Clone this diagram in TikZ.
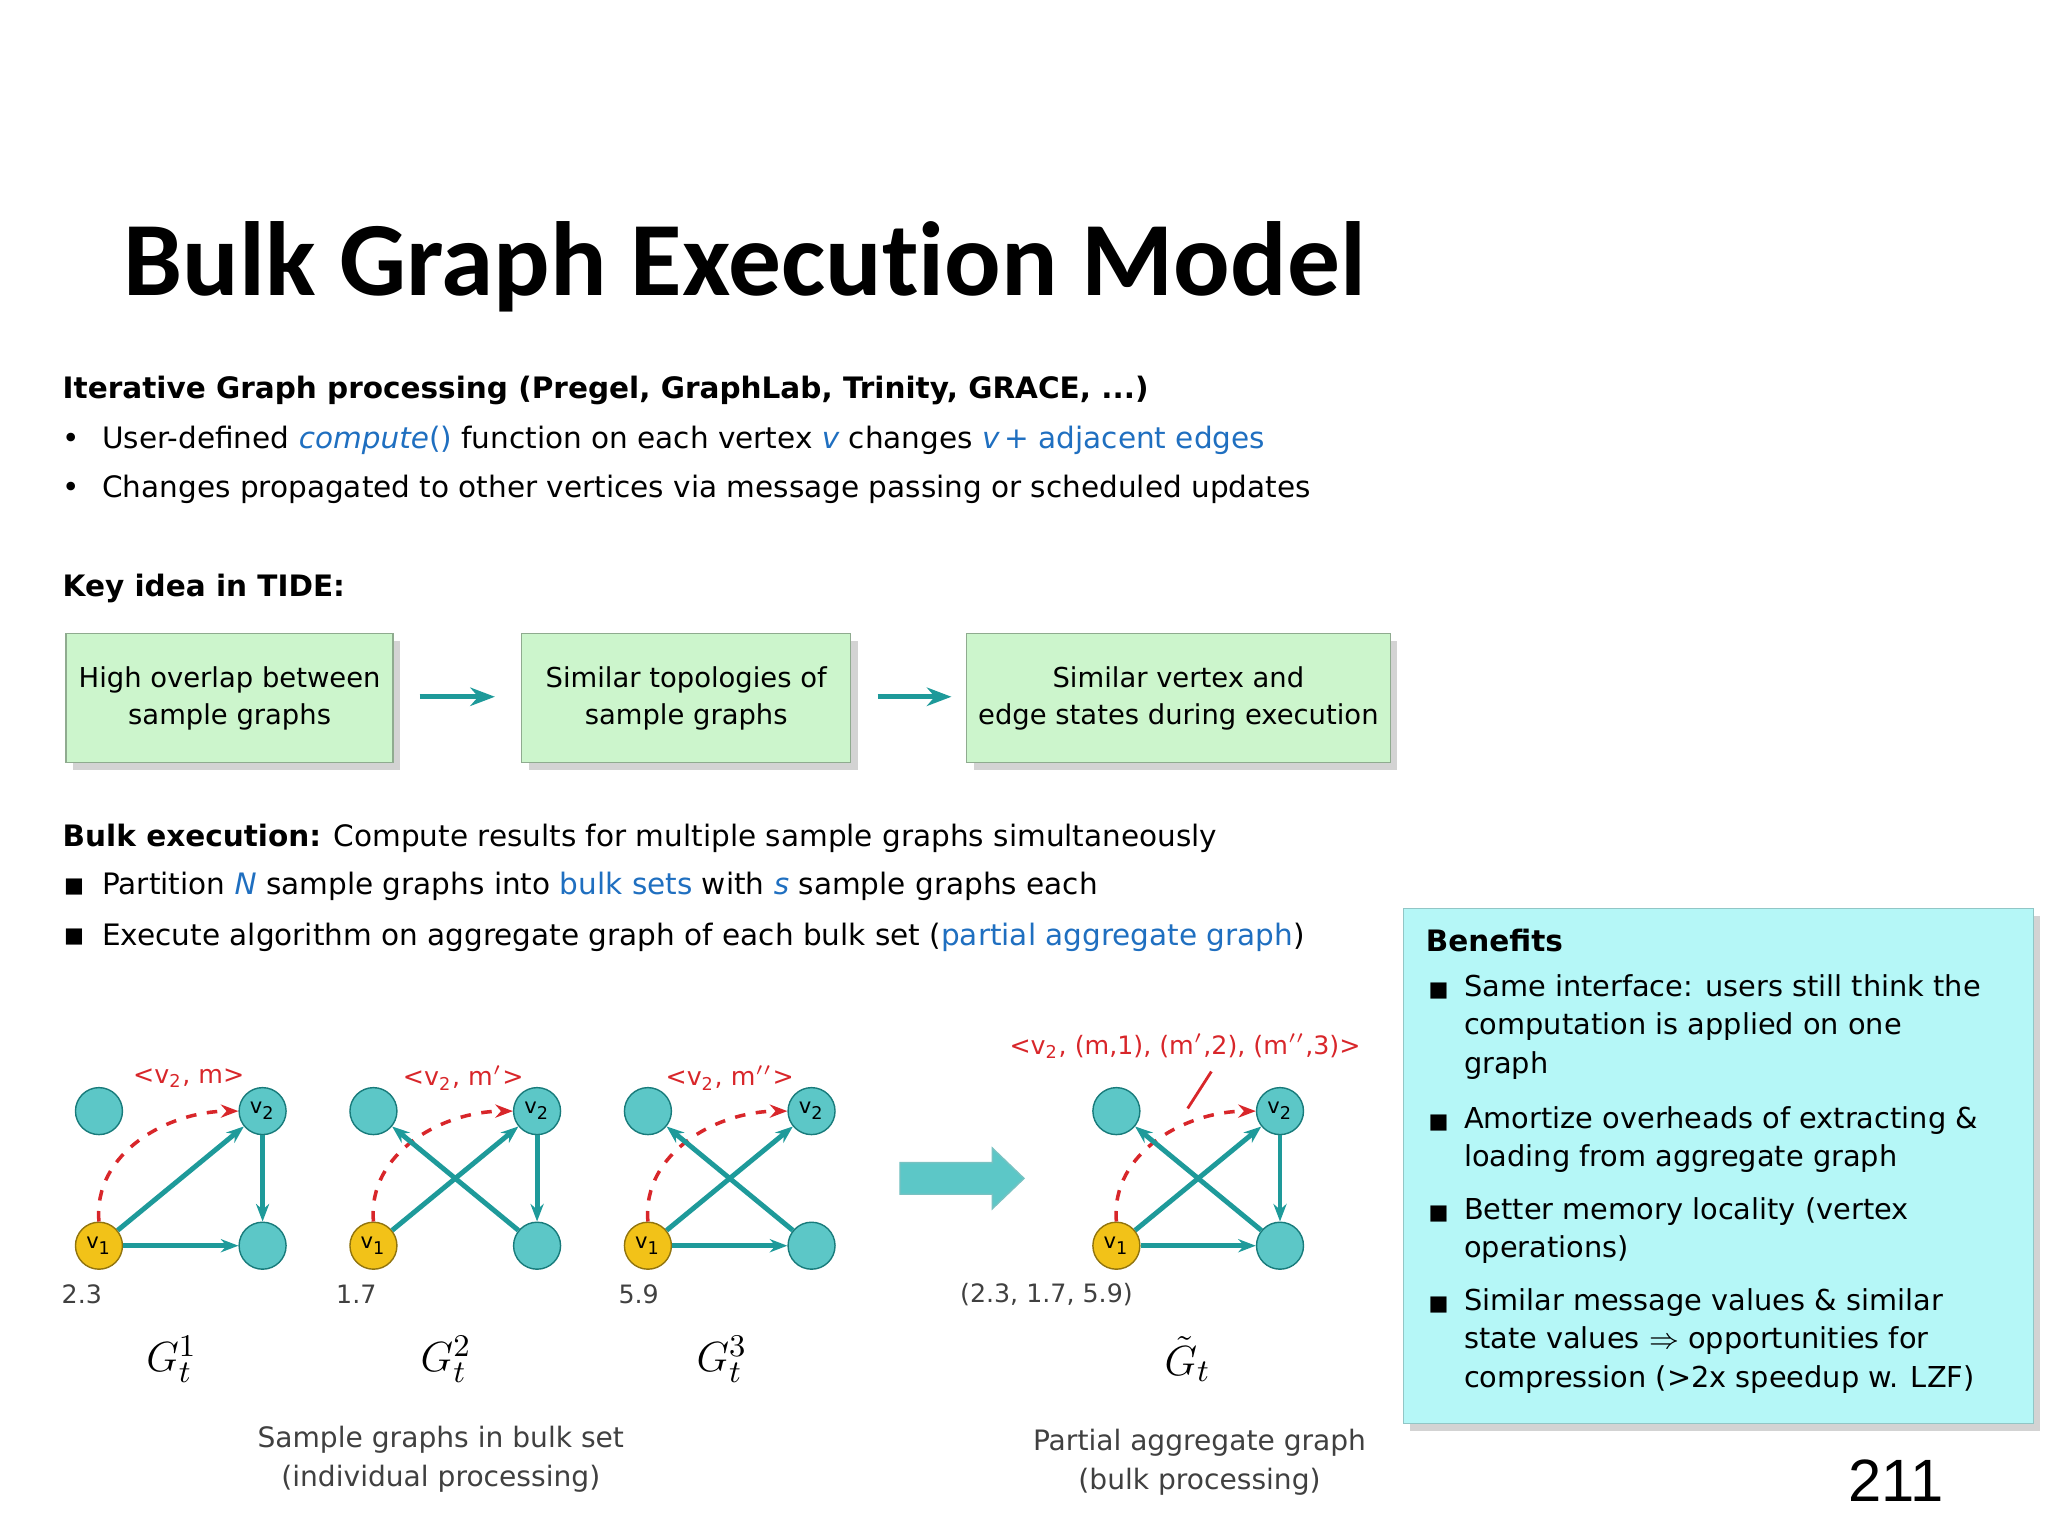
\documentclass[tikz,border=0pt]{standalone}
\usepackage{fontspec}
\setmainfont{DejaVu Sans}
\newfontfamily\titlefont[Ligatures=NoCommon]{Carlito}
\newfontfamily\numfont{Liberation Sans}
\usetikzlibrary{arrows.meta,shadows}
\definecolor{lnk}{HTML}{1F6FC0}
\definecolor{teal1}{HTML}{1E9A9A}
\definecolor{nodec}{HTML}{5CC7C7}
\definecolor{yel}{HTML}{F2C218}
\definecolor{redm}{HTML}{D8262A}
\definecolor{boxg}{HTML}{CCF5CC}
\definecolor{boxc}{HTML}{B5F7F7}
\tikzset{
 body/.style={font=\fontsize{8.4}{10}\selectfont,anchor=west,inner sep=0pt},
 keybox/.style={draw=boxg!70!black,fill=boxg,minimum height=1.29cm,align=center,font=\fontsize{7.8}{10.5}\selectfont,drop shadow={opacity=0.35,shadow xshift=2pt,shadow yshift=-2pt}},
 vtx/.style={circle,draw=teal1!80!black,fill=nodec,minimum size=0.47cm,inner sep=0pt,font=\fontsize{6}{6}\selectfont},
 vone/.style={vtx,fill=yel,draw=yel!60!black},
 edg/.style={teal1,line width=1.4pt,-{Stealth[length=5pt]}},
 msg/.style={redm,dashed,line width=1pt,-{Stealth[length=5pt]}},
 rlab/.style={redm,font=\fontsize{7.2}{9}\selectfont},
 glab/.style={font=\fontsize{7.2}{9}\selectfont,text=black!75},
 bl/.style={body,anchor=north west,align=left,font=\fontsize{8.2}{10.9}\selectfont},
}
\begin{document}
\begin{tikzpicture}[x=0.013196cm,y=-0.013196cm]
\useasboundingbox (0,0) rectangle (1552,1164);
\node[anchor=west,inner sep=0pt,font=\titlefont\bfseries\fontsize{30}{32}\selectfont] (title) at (93,202) {Bulk Graph Execution Model};
\node[body,font=\bfseries\fontsize{8.4}{10}\selectfont] (l1) at (47,296) {Iterative Graph processing (Pregel, GraphLab, Trinity, GRACE, ...)};
\node[body] (b1) at (47,334) {•};
\node[body] (l2) at (77,334) {User-defined \textcolor{lnk}{\itshape compute}\textcolor{lnk}{()} function on each vertex \textcolor{lnk}{\itshape v} changes \textcolor{lnk}{\itshape v}\textcolor{lnk}{\,+ adjacent edges}};
\node[body] (b2) at (47,371) {•};
\node[body] (l3) at (77,371) {Changes propagated to other vertices via message passing or scheduled updates};
\node[body,font=\bfseries\fontsize{8.4}{10}\selectfont] (l4) at (47,446) {Key idea in TIDE:};
\node[keybox,minimum width=3.27cm] (k1) at (174,529) {High overlap between\\sample graphs};
\node[keybox,minimum width=3.29cm] (k2) at (520,529) {Similar topologies of\\sample graphs};
\node[keybox,minimum width=4.01cm] (k3) at (893,529) {Similar vertex and\\edge states during execution};
\coordinate (a1s) at (318,528); \coordinate (a1e) at (375,528);
\coordinate (a2s) at (665,528); \coordinate (a2e) at (721,528);
\draw[teal1,line width=1.5pt,-{Stealth[length=7pt]}] (a1s) -- (a1e);
\draw[teal1,line width=1.5pt,-{Stealth[length=7pt]}] (a2s) -- (a2e);
\node[body] (l5) at (47,635) {\textbf{Bulk execution:} Compute results for multiple sample graphs simultaneously};
\node[body] (b3) at (48,672) {\fontsize{6}{6}\selectfont■};
\node[body] (l6) at (77,672) {Partition \textcolor{lnk}{\itshape N} sample graphs into \textcolor{lnk}{bulk sets} with \textcolor{lnk}{\itshape s} sample graphs each};
\node[body] (b4) at (48,710) {\fontsize{6}{6}\selectfont■};
\node[body] (l7) at (77,710) {Execute algorithm on aggregate graph of each bulk set (\textcolor{lnk}{partial aggregate graph})};
% benefits
\node[draw=boxc!80!black,fill=boxc,minimum width=6.3cm,minimum height=5.15cm,anchor=north west,drop shadow={opacity=0.35,shadow xshift=2pt,shadow yshift=-2pt}] (ben) at (1063,688) {};
\node[body,font=\bfseries\fontsize{8.4}{10}\selectfont] (bt) at (1080,713) {Benefits};
\foreach \y in {751,851,920,989} \node[body] at (1082,\y) {\fontsize{6}{6}\selectfont■};
\node[bl] (bb1) at (1109,738) {Same interface: users still think the\\computation is applied on one\\graph};
\node[bl] (bb2) at (1109,838) {Amortize overheads of extracting \&\\loading from aggregate graph};
\node[bl] (bb3) at (1109,907) {Better memory locality (vertex\\operations)};
\node[bl] (bb4) at (1109,976) {Similar message values \& similar\\state values $\Rightarrow$ opportunities for\\compression (>2x speedup w. LZF)};
\node[font=\numfont\fontsize{17}{20}\selectfont] (pg) at (1437,1122) {211};
% graphs
\foreach \g/\ox in {a/0,b/208,c/416,d/771}{
 \node[vtx] (\g tl) at (75+\ox,842) {};
 \node[vtx] (\g v2) at (199+\ox,842) {v\textsubscript{2}};
 \node[vone] (\g v1) at (75+\ox,944) {v\textsubscript{1}};
 \node[vtx] (\g br) at (199+\ox,944) {};
 \draw[edg] (\g v1) -- (\g v2);
 \draw[msg] (\g v1.north) to[out=95,in=180] (\g v2.west);
}
\draw[edg] (av2) -- (abr); \draw[edg] (av1) -- (abr);
\draw[edg] (bv2) -- (bbr); \draw[edg] (bbr) -- (btl);
\draw[edg] (cbr) -- (ctl); \draw[edg] (cv1) -- (cbr);
\draw[edg] (dv2) -- (dbr); \draw[edg] (dbr) -- (dtl); \draw[edg] (dv1) -- (dbr);
\node[rlab] (ma) at (143,817) {<v\textsubscript{2}, m>};
\node[rlab] (mb) at (351,817) {<v\textsubscript{2}, m$'$>};
\node[rlab] (mc) at (553,817) {<v\textsubscript{2}, m$''$>};
\node[rlab] (md) at (898,793) {<v\textsubscript{2}, (m,1), (m$'$,2), (m$''$,3)>};
\coordinate (mdt) at (918,812);
\coordinate (mdp) at (900,840);
\draw[redm,line width=0.8pt] (mdt) -- (mdp);
\node[glab] (na) at (62,981) {2.3};
\node[glab] (nb) at (270,981) {1.7};
\node[glab] (nc) at (484,981) {5.9};
\node[glab] (nd) at (793,981) {(2.3, 1.7, 5.9)};
\node[font=\fontsize{13}{14}\selectfont] (ga) at (130,1030) {$G_t^1$};
\node[font=\fontsize{13}{14}\selectfont] (gb) at (338,1030) {$G_t^2$};
\node[font=\fontsize{13}{14}\selectfont] (gc) at (547,1030) {$G_t^3$};
\node[font=\fontsize{13}{14}\selectfont] (gd) at (900,1030) {$\tilde{G}_t$};
\node[glab,align=center,font=\fontsize{8}{11}\selectfont] (ca) at (334,1106) {Sample graphs in bulk set\\(individual processing)};
\node[glab,align=center,font=\fontsize{8}{11}\selectfont] (cb) at (909,1108) {Partial aggregate graph\\(bulk processing)};
\fill[nodec,draw=teal1!60] (682,881) -- (752,881) -- (752,870) -- (776,893) -- (752,916) -- (752,905) -- (682,905) -- cycle;
\end{tikzpicture}
\end{document}
